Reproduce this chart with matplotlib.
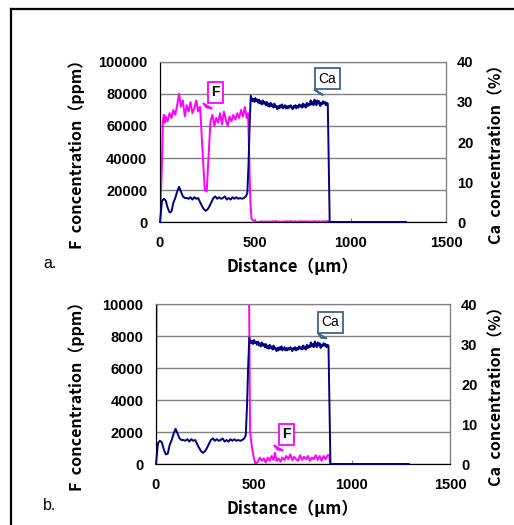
"""F / Ca line profiles across distance, two panels (a: full F scale, b: zoomed F scale)."""

import matplotlib
matplotlib.use("Agg")
import matplotlib.pyplot as plt
from matplotlib.font_manager import FontProperties
from matplotlib.lines import Line2D

# --- data ------------------------------------------------------------------
# F concentration (ppm) along the line: (distance um, ppm)
f_profile = [
    (0, 0), (10, 35000), (15, 63000), (20, 67000), (25, 62000), (30, 66000),
    (40, 63000), (50, 68000), (60, 65000), (70, 70000), (80, 67000),
    (90, 73000), (100, 80000), (110, 72000), (120, 76000), (130, 66000),
    (140, 73000), (150, 69000), (160, 75000), (170, 68000), (180, 71000),
    (190, 76000), (200, 69000), (210, 72000), (215, 62000), (225, 40000),
    (235, 20000), (245, 19000), (255, 42000), (265, 63000), (275, 67000),
    (285, 60000), (295, 65000), (305, 62000), (315, 68000), (325, 61000),
    (335, 69000), (345, 64000), (355, 60000), (365, 66000), (375, 63000),
    (385, 67000), (395, 64000), (405, 68000), (415, 65000), (425, 70000),
    (435, 66000), (445, 72000), (455, 65000), (462, 68000), (468, 40000),
    (474, 12000), (480, 2000), (490, 1000), (500, 300), (510, 0), (520, 150),
    (530, 400), (540, 200), (550, 350), (560, 100), (570, 400), (580, 200),
    (590, 500), (600, 250), (607, 700), (615, 200), (625, 350), (635, 150),
    (645, 400), (655, 250), (665, 500), (675, 300), (685, 600), (695, 250),
    (705, 450), (715, 300), (725, 200), (735, 550), (745, 250), (755, 450),
    (765, 300), (775, 500), (785, 200), (795, 400), (805, 300), (815, 550),
    (825, 250), (835, 500), (845, 200), (855, 500), (865, 300), (875, 550),
    (884, 550), (888, 0),
]

# Ca concentration (%) along the line: (distance um, %)
ca_profile = [
    (0, 0), (5, 2.5), (10, 5.2), (20, 5.8), (30, 5.4), (40, 3.6), (50, 2.4),
    (60, 2.6), (70, 4.8), (80, 6.0), (90, 7.6), (100, 8.8), (110, 7.6),
    (120, 6.4), (130, 6.0), (140, 6.0), (150, 5.8), (160, 6.2), (170, 5.6),
    (180, 6.2), (190, 5.8), (200, 6.0), (210, 5.0), (220, 4.0), (230, 3.2),
    (240, 2.8), (250, 3.2), (260, 4.0), (270, 5.0), (280, 6.0), (290, 6.4),
    (300, 5.8), (310, 6.2), (320, 5.8), (330, 6.0), (340, 6.4), (350, 5.6),
    (360, 6.0), (370, 5.6), (380, 6.2), (390, 5.8), (400, 6.2), (410, 5.8),
    (420, 6.0), (430, 5.8), (440, 6.0), (450, 6.4), (458, 7.2), (464, 14.0),
    (470, 24.0), (476, 31.6), (480, 31.0), (485, 30.2), (490, 30.8),
    (495, 30.0), (500, 31.0), (505, 30.2), (510, 30.6), (515, 29.8),
    (520, 30.6), (525, 29.6), (530, 30.2), (535, 29.4), (540, 30.4),
    (545, 29.6), (550, 30.0), (555, 29.2), (560, 30.0), (565, 29.0),
    (570, 29.6), (575, 28.8), (580, 29.8), (585, 29.0), (590, 29.4),
    (595, 28.6), (600, 29.6), (605, 28.8), (610, 29.0), (615, 28.2),
    (620, 29.0), (625, 28.4), (630, 29.2), (635, 28.6), (640, 29.4),
    (645, 28.4), (650, 28.8), (655, 29.2), (660, 28.4), (665, 29.0),
    (670, 28.4), (675, 29.0), (680, 28.6), (685, 29.2), (690, 28.8),
    (695, 28.2), (700, 29.0), (705, 28.6), (710, 29.2), (715, 28.4),
    (720, 29.0), (725, 28.6), (730, 29.4), (735, 28.8), (740, 29.2),
    (745, 28.6), (750, 29.6), (755, 28.8), (760, 29.4), (765, 28.6),
    (770, 29.8), (775, 29.0), (780, 29.6), (785, 29.2), (790, 30.4),
    (795, 29.4), (800, 30.0), (805, 29.2), (810, 30.6), (815, 30.0),
    (820, 29.2), (825, 30.4), (830, 29.6), (835, 30.2), (840, 29.0),
    (845, 29.8), (850, 29.4), (855, 30.2), (860, 29.6), (865, 30.0),
    (870, 29.2), (875, 29.8), (880, 29.6), (885, 15.0), (890, 0), (1290, 0),
]

x_ticks = [0, 500, 1000, 1500]
ca_ticks = [0, 10, 20, 30, 40]
f_ticks_a = [0, 20000, 40000, 60000, 80000, 100000]
f_ticks_b = [0, 2000, 4000, 6000, 8000, 10000]

f_dist, f_ppm = zip(*f_profile)
ca_dist, ca_pct = zip(*ca_profile)

F_COLOR = "#ff00ff"
CA_COLOR = "#000080"
CJK = ["Noto Sans CJK JP", "DejaVu Sans"]
TICK_FONT = FontProperties(family="Liberation Sans", weight="bold", size=10.5)


def callout(ax, text, xy, xytext, color, weight):
    ax.annotate(
        text, xy=xy, xytext=xytext, ha="center", va="center",
        fontsize=10, fontweight=weight, family="Liberation Sans",
        bbox=dict(boxstyle="square,pad=0.25", fc="white", ec=color, lw=1.3),
        arrowprops=dict(arrowstyle="wedge,tail_width=0.7,shrink_factor=0.4",
                        fc="white", ec=color, lw=1.3),
        zorder=10,
    )


def draw_panel(ax, f_ticks, f_callout, ca_callout):
    ax.plot(f_dist, f_ppm, color=F_COLOR, lw=1.4, zorder=3)
    ax.set_xlim(0, 1500)
    ax.set_ylim(0, f_ticks[-1])
    ax.set_xticks(x_ticks)
    ax.set_yticks(f_ticks)
    ax.yaxis.grid(True, color="#808080", lw=1)
    ax.set_axisbelow(True)
    ax.tick_params(axis="y", length=0, pad=9)
    ax.tick_params(axis="x", direction="in", length=3, pad=10, color="#808080")
    for lab in ax.get_xticklabels() + ax.get_yticklabels():
        lab.set_fontproperties(TICK_FONT)
    ax.spines["top"].set_color("#808080")

    ax2 = ax.twinx()
    ax2.plot(ca_dist, ca_pct, color=CA_COLOR, lw=1.4, zorder=4, clip_on=False)
    ax2.set_ylim(0, 40)
    ax2.set_yticks(ca_ticks)
    ax2.tick_params(axis="y", length=0, pad=8)
    for lab in ax2.get_yticklabels():
        lab.set_fontproperties(TICK_FONT)
    ax2.spines["right"].set_color("#808080")
    ax2.spines["top"].set_color("#808080")

    callout(ax2, "F", f_callout[0], f_callout[1], F_COLOR, "bold")
    callout(ax2, "Ca", ca_callout[0], ca_callout[1], "#3f648c", "normal")
    return ax2


fig = plt.figure(figsize=(5.14, 5.25), dpi=100)
W, H = 514, 525

ax_a = fig.add_axes([160 / W, 1 - 222 / H, 286 / W, 160 / H])
ax_b = fig.add_axes([156 / W, 1 - 464 / H, 294 / W, 160 / H])

# callouts given in Ca axis units (0-40)
draw_panel(ax_a, f_ticks_a,
           ((236, 28.0), (291, 32.4)),
           ((823, 31.8), (878, 35.8)))
draw_panel(ax_b, f_ticks_b,
           ((612, 3.0), (666, 7.4)),
           ((842, 31.5), (890, 35.4)))

for ytop, letter in ((62, "a."), (304, "b.")):
    yc = 1 - (ytop + 88) / H
    fig.text(77 / W, yc, "F  concentration（ppm）", rotation=90, ha="center",
             va="center", family=CJK, fontweight="bold", fontsize=11.5)
    fig.text(496 / W, yc, "Ca  concentration（%）", rotation=90, ha="center",
             va="center", family=CJK, fontweight="bold", fontsize=11.5)
    fig.text(292 / W, 1 - (ytop + 205) / H, "Distance（μm）", ha="center",
             va="center", family=CJK, fontweight="bold", fontsize=12)
    fig.text(43 / W, 1 - (ytop + 201) / H, letter, ha="left", va="center",
             family="Liberation Sans", fontsize=11.5)

# outer frame (top and left edges only)
fig.add_artist(Line2D([11 / W, 1], [1 - 9 / H, 1 - 9 / H], color="black", lw=1.6))
fig.add_artist(Line2D([11 / W, 11 / W], [0, 1 - 9 / H], color="black", lw=1.6))

fig.savefig("out.png", dpi=100)
